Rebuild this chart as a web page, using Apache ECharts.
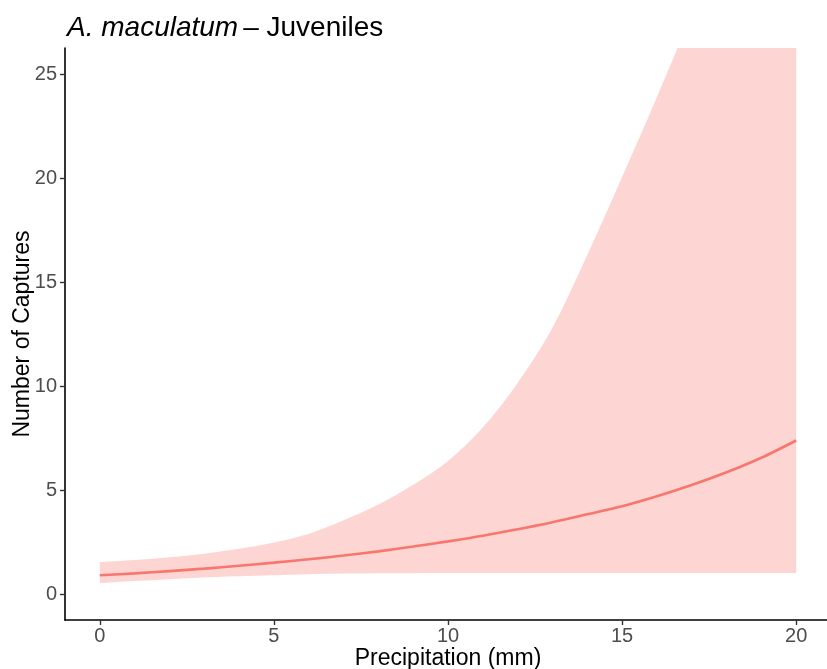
<!DOCTYPE html>
<html>
<head>
<meta charset="utf-8">
<title>A. maculatum – Juveniles</title>
<script src="https://cdn.jsdelivr.net/npm/echarts@6/dist/echarts.min.js"></script>
<style>
  html, body { margin: 0; padding: 0; background: #fff; }
  #chart { width: 827px; height: 669px; }
</style>
</head>
<body>
<div id="chart"></div>
<script>
// precipitation (mm)
const precip = [0, 1, 2, 3, 4, 5, 6, 7, 8, 9, 10, 11, 12, 13, 14, 15, 16, 17, 18, 19, 20]
// fitted number of captures
const fitted = [0.90, 0.99, 1.10, 1.22, 1.36, 1.51, 1.67, 1.85, 2.05, 2.28, 2.53, 2.80, 3.11, 3.45, 3.83, 4.22, 4.70, 5.24, 5.85, 6.55, 7.38]
// confidence band
const lowerCI = [0.52, 0.62, 0.71, 0.79, 0.85, 0.90, 0.95, 0.98, 1.00, 1.00, 1.01, 1.01, 1.01, 1.01, 1.01, 1.01, 1.01, 1.01, 1.01, 1.01, 1.01]
const upperCI = [1.54, 1.64, 1.77, 1.94, 2.17, 2.47, 2.90, 3.55, 4.30, 5.25, 6.40, 8.0, 10.15, 12.8, 16.3, 20.05, 23.9, 28.0, 33.0, 39.0, 45.0]
const tickValues = [0, 5, 10, 15, 20]
const yTickValues = [0, 5, 10, 15, 20, 25]

const lineColor = '#F8766D'
const font = 'Liberation Sans, Arial, Helvetica, sans-serif'

const chart = echarts.init(document.getElementById('chart'), null, { renderer: 'canvas' })

// smooth path through pixel points (catmull-rom -> bezier)
const curvePath = (pts, start) => {
  let d = start ? `M${pts[0][0]},${pts[0][1]}` : `L${pts[0][0]},${pts[0][1]}`
  for (let i = 0; i < pts.length - 1; i++) {
    const p0 = pts[Math.max(i - 1, 0)]
    const p1 = pts[i]
    const p2 = pts[i + 1]
    const p3 = pts[Math.min(i + 2, pts.length - 1)]
    const c1 = [p1[0] + (p2[0] - p0[0]) / 6, p1[1] + (p2[1] - p0[1]) / 6]
    const c2 = [p2[0] - (p3[0] - p1[0]) / 6, p2[1] - (p3[1] - p1[1]) / 6]
    d += ` C${c1[0]},${c1[1]} ${c2[0]},${c2[1]} ${p2[0]},${p2[1]}`
  }
  return d
}

const renderBand = (params, api) => {
  const top = precip.map((x, i) => api.coord([x, upperCI[i]]))
  const bottom = precip.map((x, i) => api.coord([x, lowerCI[i]])).reverse()
  const pathData = curvePath(top, true) + ' ' + curvePath(bottom, false) + ' Z'
  const cs = params.coordSys
  return {
    type: 'path',
    shape: { pathData },
    style: { fill: 'rgba(248,118,109,0.3)' },
    clipPath: { type: 'rect', shape: { x: cs.x, y: cs.y, width: cs.width, height: cs.height } },
    silent: true,
  }
}

const option = {
  backgroundColor: '#ffffff',
  animation: false,
  title: {
    text: '{i|A. maculatum} {n|– Juveniles}',
    left: 62,
    top: 9,
    textStyle: {
      rich: {
        i: { fontFamily: font, fontStyle: 'italic', fontWeight: 'normal', fontSize: 28, color: '#000' },
        n: { fontFamily: font, fontWeight: 'normal', fontSize: 28, color: '#000' },
      },
    },
  },
  grid: {
    left: 65,
    right: -4,
    top: 48,
    bottom: 49,
    containLabel: false,
    outerBoundsMode: 'none',
  },
  xAxis: {
    type: 'value',
    min: -1,
    max: 21,
    name: 'Precipitation (mm)',
    nameLocation: 'middle',
    nameGap: 27,
    nameMoveOverlap: false,
    nameTextStyle: { fontFamily: font, fontSize: 23, color: '#000' },
    splitLine: { show: false },
    axisLine: { onZero: false, lineStyle: { color: '#000', width: 1.6 } },
    axisTick: { customValues: tickValues, length: 5, lineStyle: { color: '#333', width: 1.4 } },
    axisLabel: { customValues: tickValues, margin: 6, fontFamily: font, fontSize: 20, color: '#4d4d4d' },
  },
  yAxis: {
    type: 'value',
    min: -1.25,
    max: 26.25,
    name: 'Number of Captures',
    nameLocation: 'middle',
    nameRotate: 90,
    nameGap: 31,
    nameMoveOverlap: false,
    nameTextStyle: { fontFamily: font, fontSize: 23, color: '#000' },
    splitLine: { show: false },
    axisLine: { show: true, onZero: false, lineStyle: { color: '#000', width: 1.6 } },
    axisTick: { show: true, customValues: yTickValues, length: 5, lineStyle: { color: '#333', width: 1.4 } },
    axisLabel: { customValues: yTickValues, margin: 8, fontFamily: font, fontSize: 20, color: '#4d4d4d' },
  },
  series: [
    {
      name: 'band',
      type: 'custom',
      renderItem: renderBand,
      data: [[0, 0]],
      silent: true,
      z: 1,
    },
    {
      name: 'fit',
      type: 'line',
      data: precip.map((x, i) => [x, fitted[i]]),
      smooth: 0.3,
      symbol: 'none',
      lineStyle: { color: lineColor, width: 2.6 },
      clip: true,
      z: 2,
    },
  ],
}

chart.setOption(option)
</script>
</body>
</html>
